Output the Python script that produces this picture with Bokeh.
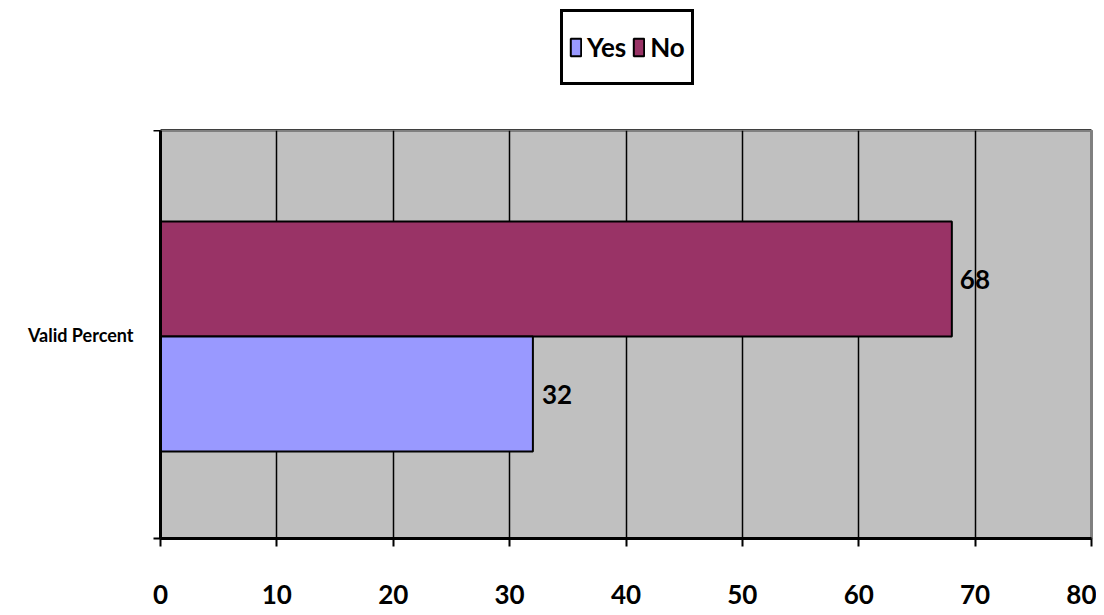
from bokeh.plotting import figure
from bokeh.layouts import column
from bokeh.models import ColumnDataSource, FixedTicker, Legend, LegendItem, Range1d
from bokeh.transform import dodge
from bokeh.core.properties import value
from bokeh.embed import file_html
from bokeh.resources import INLINE

# ---- data ----
categories = ["Valid Percent"]
series = ["Yes", "No"]
yes_values = [32]
no_values = [68]
x_ticks = [0, 10, 20, 30, 40, 50, 60, 70, 80]
grid_ticks = [10, 20, 30, 40, 50, 60, 70]

# ---- style ----
FONT = "Lato"
YES_COLOR = "#9999FF"
NO_COLOR = "#993366"
PLOT_BG = "#C0C0C0"
BORDER = "#808080"

cat_pos = [0.5 + i for i in range(len(categories))]
src = ColumnDataSource(dict(
    cat=cat_pos,
    yes=yes_values,
    no=no_values,
    yes_lbl=[str(v) for v in yes_values],
    no_lbl=[str(v) for v in no_values],
))

# ---------------- main chart ----------------
p = figure(
    frame_width=931, frame_height=408,
    x_range=Range1d(0, 80), y_range=Range1d(0, len(categories)),
    output_backend="svg", toolbar_location=None,
    min_border_left=160, min_border_right=5,
    min_border_top=0, min_border_bottom=40,
)
p.background_fill_color = PLOT_BG
p.border_fill_color = "white"
p.outline_line_color = BORDER
p.outline_line_width = 3

# x axis
p.xaxis.ticker = FixedTicker(ticks=x_ticks)
p.xaxis.axis_line_color = "black"
p.xaxis.axis_line_width = 3
p.xaxis.major_tick_line_color = "black"
p.xaxis.major_tick_line_width = 2
p.xaxis.major_tick_out = 8
p.xaxis.major_tick_in = 0
p.xaxis.minor_tick_line_color = None
p.xaxis.major_label_text_font = FONT
p.xaxis.major_label_text_font_style = "bold"
p.xaxis.major_label_text_font_size = "26px"
p.xaxis.major_label_text_color = "black"
p.xaxis.major_label_standoff = 38

# y axis
p.yaxis.ticker = FixedTicker(ticks=cat_pos, minor_ticks=[0, len(categories)])
p.yaxis.major_label_overrides = {c: name for c, name in zip(cat_pos, categories)}
p.yaxis.axis_line_color = "black"
p.yaxis.axis_line_width = 3
p.yaxis.major_tick_line_color = None
p.yaxis.major_tick_out = 0
p.yaxis.major_tick_in = 0
p.yaxis.minor_tick_line_color = "black"
p.yaxis.minor_tick_line_width = 2
p.yaxis.minor_tick_out = 7
p.yaxis.minor_tick_in = 0
p.yaxis.major_label_text_font = FONT
p.yaxis.major_label_text_font_style = "bold"
p.yaxis.major_label_text_font_size = "18px"
p.yaxis.major_label_text_color = "black"
p.yaxis.major_label_standoff = 20

# grid
p.ygrid.grid_line_color = None
p.xgrid.ticker = FixedTicker(ticks=grid_ticks)
p.xgrid.grid_line_color = "black"
p.xgrid.grid_line_width = 1.5

# bars
r_no = p.hbar(y=dodge("cat", 0.136, range=p.y_range), left=0, right="no", height=0.282,
              source=src, fill_color=NO_COLOR, line_color="black", line_width=2)
r_yes = p.hbar(y=dodge("cat", -0.146, range=p.y_range), left=0, right="yes", height=0.282,
               source=src, fill_color=YES_COLOR, line_color="black", line_width=2)

# value labels
p.text(x="no", y=dodge("cat", 0.136, range=p.y_range), text="no_lbl", source=src,
       x_offset=8, text_baseline="middle", text_align="left",
       text_font=value(FONT), text_font_style="bold", text_font_size="26px", text_color="black")
p.text(x="yes", y=dodge("cat", -0.146, range=p.y_range), text="yes_lbl", source=src,
       x_offset=9, text_baseline="middle", text_align="left",
       text_font=value(FONT), text_font_style="bold", text_font_size="26px", text_color="black")

# ---------------- legend strip ----------------
lf = figure(
    width=1096, height=130,
    x_range=Range1d(0, 1), y_range=Range1d(0, 1),
    x_axis_type=None, y_axis_type=None,
    output_backend="svg", toolbar_location=None,
    min_border=0,
)
lf.outline_line_color = None
lf.grid.grid_line_color = None
lf.background_fill_color = "white"
lf.border_fill_color = "white"
# keys for the legend: same series, drawn outside the strip's visible range
key_src = ColumnDataSource(dict(y=[-5.0], yes=yes_values, no=no_values))
k_yes = lf.hbar(y="y", right="yes", left=0, height=0.1, source=key_src,
                fill_color=YES_COLOR, line_color="black", line_width=2)
k_no = lf.hbar(y="y", right="no", left=0, height=0.1, source=key_src,
               fill_color=NO_COLOR, line_color="black", line_width=2)

legend = Legend(
    items=[LegendItem(label=series[0], renderers=[k_yes]),
           LegendItem(label=series[1], renderers=[k_no])],
    orientation="horizontal",
    location=(400, 45),
    border_line_color="black", border_line_width=3, border_line_alpha=1,
    background_fill_color="white", background_fill_alpha=1,
    label_text_font=FONT, label_text_font_style="bold", label_text_font_size="26px",
    label_text_color="black",
    glyph_width=13, glyph_height=22, label_standoff=5, spacing=6,
    label_height=58, padding=6, margin=0,
)
lf.add_layout(legend)

open("out.html", "w").write(file_html(column(lf, p, spacing=0), INLINE))
